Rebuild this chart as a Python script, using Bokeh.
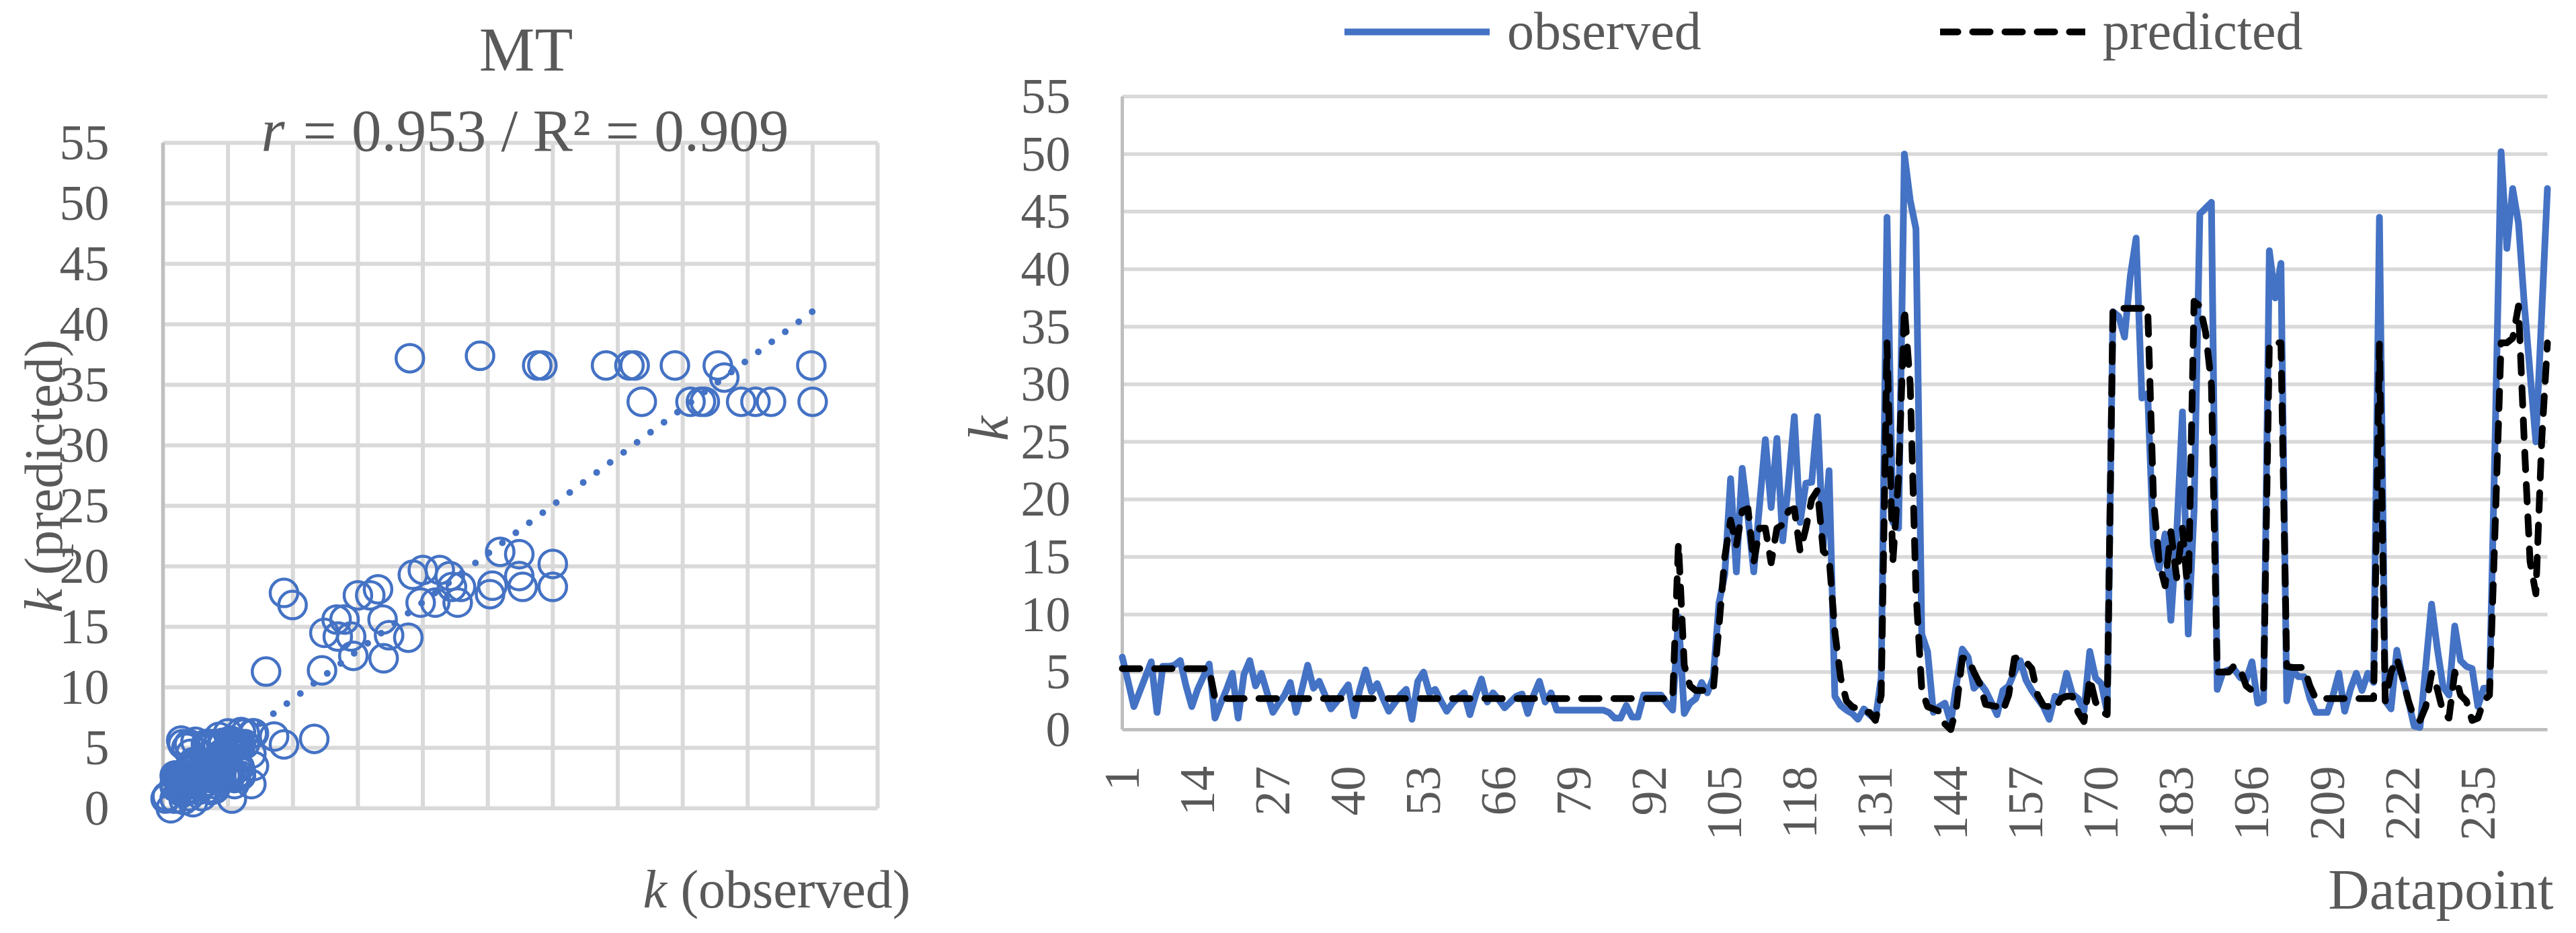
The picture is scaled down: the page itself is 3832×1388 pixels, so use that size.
import numpy as np
from math import pi
from bokeh.plotting import figure
from bokeh.layouts import row
from bokeh.models import Range1d, Label, Legend, LegendItem
from bokeh.core.properties import value
from bokeh.embed import file_html
from bokeh.resources import INLINE

FONT = "Liberation Serif"
TXT = "#595959"
BLUE = "#4472c4"
GRID = "#d9d9d9"
AXIS = "#bfbfbf"

# ---------------- data ----------------
observed = [
    6.3, 4.2, 2.0, 3.3, 4.6, 5.9, 1.5, 5.5, 5.5, 5.6,
    6.0, 3.8, 2.0, 3.5, 4.6, 5.7, 1.0, 2.3, 3.5, 4.9,
    1.0, 4.8, 6.0, 3.8, 4.9, 3.2, 1.5, 2.3, 3.0, 4.1,
    1.5, 3.5, 5.6, 3.6, 4.2, 3.0, 1.8, 2.4, 3.2, 3.9,
    1.2, 3.5, 5.2, 3.3, 4.0, 2.7, 1.6, 2.3, 3.0, 3.5,
    0.9, 4.2, 5.0, 3.2, 3.5, 2.5, 1.6, 2.3, 2.8, 3.2,
    1.3, 3.0, 4.4, 2.4, 3.2, 2.6, 1.9, 2.4, 2.9, 3.1,
    1.4, 3.0, 4.2, 2.4, 3.2, 1.7, 1.7, 1.7, 1.7, 1.7,
    1.7, 1.7, 1.7, 1.7, 1.5, 1.0, 1.0, 2.1, 1.1, 1.1,
    3.0, 3.0, 3.0, 3.0, 2.3, 1.7, 9.8, 1.4, 2.3, 2.7,
    4.1, 3.2, 4.5, 11.0, 13.5, 21.8, 13.7, 22.7, 18.5, 13.7,
    19.5, 25.2, 19.3, 25.3, 16.4, 21.5, 27.2, 18.0, 21.4, 21.5,
    27.2, 16.0, 22.5, 2.9, 2.1, 1.7, 1.4, 0.9, 1.8, 1.3,
    0.9, 4.5, 44.5, 18.0, 17.5, 50.0, 46.0, 43.5, 8.3, 6.8,
    1.5, 2.0, 2.3, 0.6, 4.0, 7.0, 6.3, 3.6, 4.1, 3.4,
    2.4, 1.3, 3.4, 3.8, 5.0, 6.0, 4.3, 3.4, 2.7, 2.0,
    0.9, 2.9, 2.7, 4.9, 3.1, 2.7, 1.6, 6.8, 4.5, 4.0,
    1.5, 36.3, 35.9, 34.1, 39.4, 42.7, 28.8, 29.2, 16.0, 14.0,
    17.0, 9.5, 17.0, 27.6, 8.3, 19.0, 44.8, 45.3, 45.8, 3.5,
    5.0, 5.2, 5.2, 4.5, 4.3, 5.9, 2.3, 2.5, 41.6, 37.5,
    40.5, 2.5, 5.2, 4.6, 4.6, 2.7, 1.5, 1.5, 1.5, 3.0,
    4.9, 1.6, 3.5, 4.9, 3.4, 4.9, 4.1, 44.5, 2.5, 1.8,
    6.9, 4.5, 2.5, 0.3, 0.2, 5.5, 10.9, 7.0, 3.7, 3.0,
    9.0, 6.0, 5.5, 5.3, 2.0, 3.6, 3.6, 26.0, 50.2, 41.8,
    47.0, 44.0, 37.0, 31.0, 25.0, 36.0, 47.0,
]

predicted = [
    5.3, 5.3, 5.3, 5.3, 5.3, 5.3, 5.3, 5.3, 5.3, 5.3,
    5.3, 5.3, 5.3, 5.3, 5.3, 5.3, 2.7, 2.7, 2.7, 2.7,
    2.7, 2.7, 2.7, 2.7, 2.7, 2.7, 2.7, 2.7, 2.7, 2.7,
    2.7, 2.7, 2.7, 2.7, 2.7, 2.7, 2.7, 2.7, 2.7, 2.7,
    2.7, 2.7, 2.7, 2.7, 2.7, 2.7, 2.7, 2.7, 2.7, 2.7,
    2.7, 2.7, 2.7, 2.7, 2.7, 2.7, 2.7, 2.7, 2.7, 2.7,
    2.7, 2.7, 2.7, 2.7, 2.7, 2.7, 2.7, 2.7, 2.7, 2.7,
    2.7, 2.7, 2.7, 2.7, 2.7, 2.7, 2.7, 2.7, 2.7, 2.7,
    2.7, 2.7, 2.7, 2.7, 2.7, 2.7, 2.7, 2.7, 2.7, 2.7,
    2.7, 2.7, 2.7, 2.7, 2.7, 2.7, 16.2, 5.6, 3.8, 3.4,
    3.4, 3.4, 3.4, 9.0, 15.0, 18.2, 16.0, 19.0, 19.2, 14.5,
    17.5, 17.5, 14.5, 17.5, 17.8, 19.0, 19.2, 15.5, 17.5, 20.0,
    20.8, 15.5, 15.0, 8.5, 4.5, 2.5, 2.0, 1.8, 1.5, 1.5,
    0.8, 3.0, 33.6, 14.5, 22.0, 36.6, 30.0, 12.0, 3.5, 2.0,
    1.8, 1.6, 0.5, 0.0, 2.0, 6.2, 6.2, 5.0, 4.0, 2.2,
    2.1, 2.0, 1.6, 3.0, 6.2, 6.3, 5.9, 5.3, 3.0, 2.1,
    2.0, 1.8, 2.7, 2.9, 2.9, 1.5, 0.7, 4.5, 2.4, 1.6,
    1.3, 36.6, 36.6, 36.6, 36.6, 36.6, 36.6, 36.6, 20.0, 14.5,
    12.5, 17.2, 13.2, 17.5, 11.5, 37.2, 36.8, 34.5, 30.0, 5.0,
    5.0, 5.0, 5.6, 5.2, 3.8, 3.4, 3.4, 3.5, 33.6, 33.6,
    33.6, 5.5, 5.4, 5.4, 5.4, 3.8, 2.7, 2.7, 2.7, 2.7,
    2.7, 2.7, 2.7, 2.7, 2.7, 2.7, 2.7, 33.5, 2.5, 5.0,
    6.2, 4.5, 2.5, 1.0, 0.8, 2.0, 4.9, 3.5, 1.5, 1.0,
    5.0, 3.0, 2.5, 0.8, 1.0, 2.5, 3.0, 18.0, 33.6, 33.6,
    34.0, 36.8, 25.0, 14.6, 11.8, 25.0, 33.6,
]

datapoint = list(range(1, len(observed) + 1))
category_ticks = [1, 14, 27, 40, 53, 66, 79, 92, 105, 118, 131, 144, 157, 170, 183, 196, 209, 222, 235]
value_ticks = [0, 5, 10, 15, 20, 25, 30, 35, 40, 45, 50, 55]
value_min, value_max = 0, 55

# scatter circles (middle and upper groups)
mid_obs = [7.93, 12.24, 9.31, 9.97, 12.42, 13.36, 13.97, 13.45, 14.48, 14.65, 15.0, 15.95,
           16.55, 16.9, 16.98, 17.4, 18.88, 19.23, 20.0, 19.83, 20.95, 21.3, 22.07, 22.24,
           22.68, 22.93, 25.17, 25.35, 25.95, 27.42, 27.42, 27.68, 30.0, 30.0]
mid_pred = [11.3, 11.4, 17.8, 16.8, 14.5, 15.6, 15.6, 14.2, 14.2, 12.6, 17.6, 17.6,
            18.1, 15.6, 12.4, 14.3, 14.1, 19.3, 19.7, 17.0, 17.0, 19.7, 19.2, 18.3,
            17.0, 18.3, 17.7, 18.4, 21.2, 21.0, 19.2, 18.3, 20.2, 18.3]
high_obs = [19.0, 24.4, 28.8, 29.2, 34.1, 35.9, 36.3, 39.4, 42.7, 49.9, 43.2,
            36.85, 40.6, 41.4, 41.7, 44.5, 45.6, 46.8, 50.0]
high_pred = [37.2, 37.4, 36.6, 36.6, 36.6, 36.6, 36.6, 36.6, 36.6, 36.6, 35.6,
             33.6, 33.6, 33.6, 33.6, 33.6, 33.6, 33.6, 33.6]
low_extra_obs = [11.64, 9.31, 8.55]
low_extra_pred = [5.74, 5.28, 5.93]

trend_coef = [0.801, 1.02]          # slope, intercept of the linear trendline
title_text = "MT"
stat_r = "r"
stat_rest = "= 0.953 / R² = 0.909"
legend_labels = ["observed", "predicted"]

# ---------------- scatter data assembly ----------------
obs_a = np.array(observed)
pred_a = np.array(predicted)
low_mask = (obs_a < 8) & (pred_a < 7.5)
sc_obs = list(obs_a[low_mask]) + low_extra_obs + mid_obs + high_obs
sc_pred = list(pred_a[low_mask]) + low_extra_pred + mid_pred + high_pred
tx = np.array([min(sc_obs), max(sc_obs)])
ty = trend_coef[0] * tx + trend_coef[1]

vt = np.array(value_ticks, dtype=float)
H = 1372


def make_fig(W, H, L, R, T, B, x0, x1, y0, y1):
    """Figure whose frame is the whole canvas; the plot area [x0,x1]x[y0,y1]
    sits at the given pixel margins inside it."""
    ppx = (W - L - R) / (x1 - x0)
    ppy = (H - T - B) / (y1 - y0)
    p = figure(width=W, height=H,
               x_range=Range1d(x0 - L / ppx, x1 + R / ppx),
               y_range=Range1d(y0 - B / ppy, y1 + T / ppy),
               x_axis_location=None, y_axis_location=None,
               output_backend="svg", toolbar_location=None, min_border=0)
    p.outline_line_color = None
    p.background_fill_color = "white"
    p.border_fill_color = "white"
    p.xgrid.visible = False
    p.ygrid.visible = False
    return p


def tick_text(p, xs, ys, labels, **kw):
    p.text(x=xs, y=ys, text=labels, text_font=value(FONT), text_font_size="74px",
           text_color=TXT, **kw)


def lab(p, text, x, y, size, align="left", baseline="alphabetic", angle=0.0, style="normal"):
    p.add_layout(Label(x=x, y=y, x_units="canvas", y_units="canvas", text=text,
                       text_font=FONT, text_font_size=size, text_color=TXT,
                       text_align=align, text_baseline=baseline, angle=angle,
                       text_font_style=style))


# ---------------- left: scatter ----------------
p1 = make_fig(1400, H, 242, 95, 212, 170, value_min, value_max, value_min, value_max)
p1.segment(x0=vt, y0=value_min, x1=vt, y1=value_max, line_color=GRID, line_width=6)
p1.segment(x0=value_min, y0=vt, x1=value_max, y1=vt, line_color=GRID, line_width=6)
p1.segment(x0=[value_min], y0=[value_min], x1=[value_min], y1=[value_max], line_color=AXIS, line_width=5)
tick_text(p1, [value_min] * len(value_ticks), value_ticks, [str(t) for t in value_ticks],
          x_offset=-80, text_align="right", text_baseline="middle")

p1.scatter(sc_obs, sc_pred, marker="circle", size=41, fill_color=None,
           line_color=BLUE, line_width=4.5)
p1.line(tx, ty, line_color=BLUE, line_width=10, line_dash="0 25", line_cap="round")

lab(p1, title_text, 782, 73, "93px", align="center")
lab(p1, stat_r, 388, 193, "90px", style="italic")
lab(p1, stat_rest, 1173, 193, "89px", align="right")
lab(p1, "k", 64, 911, "80px", angle=pi / 2, style="italic")
lab(p1, "(predicted)", 64, 911 - 56, "80px", angle=pi / 2)
lab(p1, "k", 956, 1322, "80px", style="italic")
lab(p1, "(observed)", 1354, 1322, "80px", align="right")

# ---------------- right: line chart ----------------
n = len(observed)
p2 = make_fig(2416, H, 269, 27, 143, 287, 1, n, value_min, value_max)
gt = vt[vt > value_min]
p2.segment(x0=1, y0=gt, x1=n, y1=gt, line_color=GRID, line_width=5.5)
p2.segment(x0=[1, 1], y0=[value_min, value_min], x1=[1, n], y1=[value_max, value_min],
           line_color=AXIS, line_width=5)
tick_text(p2, [1] * len(value_ticks), value_ticks, [str(t) for t in value_ticks],
          x_offset=-77, text_align="right", text_baseline="middle")
tick_text(p2, category_ticks, [value_min] * len(category_ticks), [str(t) for t in category_ticks],
          y_offset=54, angle=pi / 2, text_align="right", text_baseline="middle")

r_obs = p2.line(datapoint, observed, line_color=BLUE, line_width=10,
                line_join="round", line_cap="round")
r_pred = p2.line(datapoint, predicted, line_color="black", line_width=10,
                 line_dash="26 22", line_join="round", line_cap="round")

legend = Legend(items=[LegendItem(label=legend_labels[0], renderers=[r_obs]),
                       LegendItem(label=legend_labels[1], renderers=[r_pred])],
                orientation="horizontal", location=(600, H - 92), padding=0, margin=0,
                spacing=355, label_standoff=26, glyph_width=216, glyph_height=90,
                label_height=90, label_text_font=FONT, label_text_font_size="80px",
                label_text_color=TXT, border_line_color=None, background_fill_alpha=0)
p2.add_layout(legend)

lab(p2, "k", 70, 637, "84px", align="center", baseline="middle", angle=pi / 2, style="italic")
lab(p2, "Datapoint", 2398, 1322, "85px", align="right")

layout = row(p1, p2)
open("out.html", "w").write(file_html(layout, INLINE))
